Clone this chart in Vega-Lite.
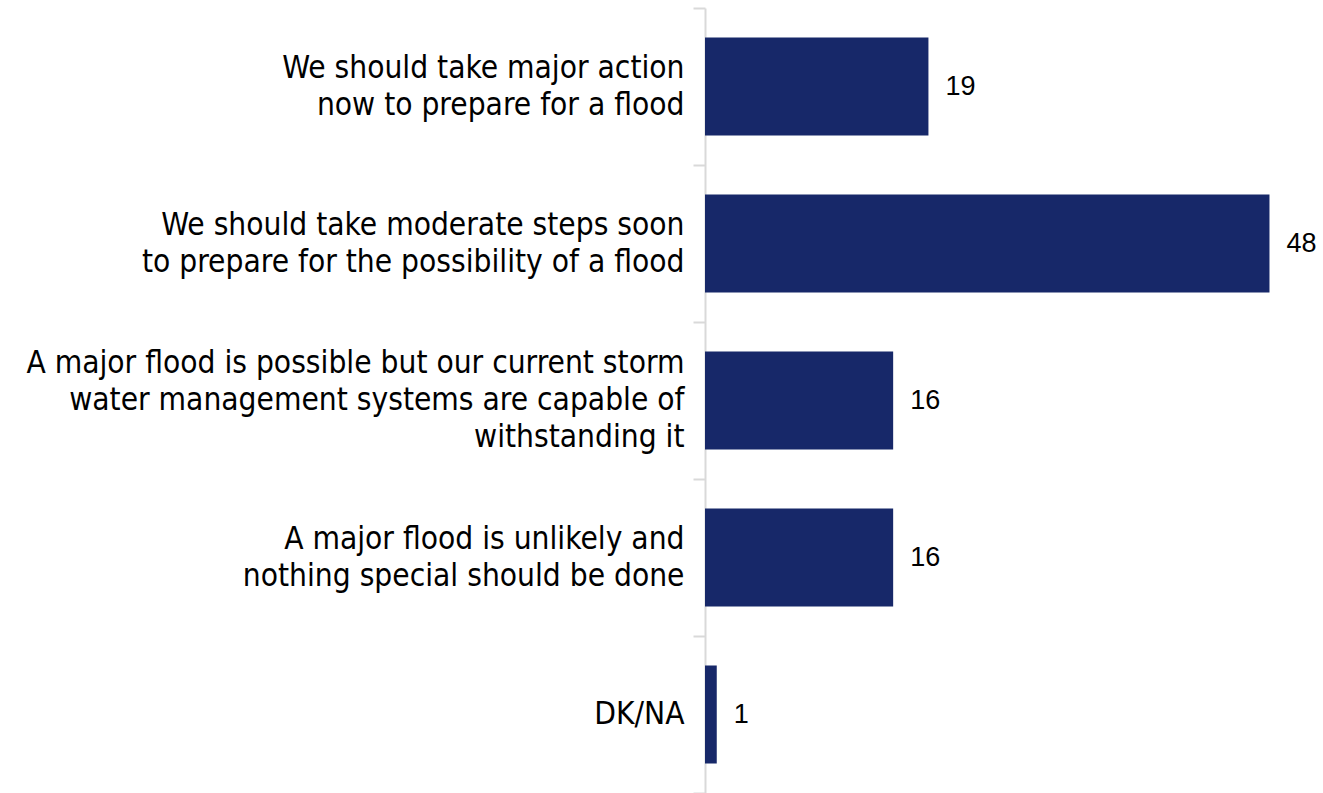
{
  "$schema": "https://vega.github.io/schema/vega-lite/v6.json",
  "autosize": "none",
  "padding": {"left": 705, "top": 8, "right": 30, "bottom": 0},
  "width": 588,
  "height": 785,
  "background": "white",
  "data": {
    "values": [
      {"label": "\u200b|We should take major action|\u200b|now to prepare for a flood", "value": 19},
      {"label": "\u200b|We should take moderate steps soon|\u200b|to prepare for the possibility of a flood", "value": 48},
      {"label": "A major flood is possible but our current storm|\u200b|water management systems are capable of|\u200b|withstanding it", "value": 16},
      {"label": "\u200b|A major flood is unlikely and|\u200b|nothing special should be done", "value": 16},
      {"label": "\u200b|\u200b|DK/NA", "value": 1}
    ]
  },
  "config": {"view": {"stroke": null}},
  "encoding": {
    "y": {
      "field": "label",
      "type": "nominal",
      "sort": null,
      "scale": {"paddingInner": 0, "paddingOuter": 0},
      "axis": {
        "title": null,
        "labelExpr": "split(datum.label, '|')",
        "labelFont": "DejaVu Sans Condensed",
        "labelFontSize": 31.4,
        "labelLineHeight": 18.5,
        "labelColor": "#000000",
        "labelPadding": 9,
        "labelOffset": -37,
        "tickSize": 12,
        "tickBand": "extent",
        "tickColor": "#d9d9d9",
        "tickWidth": 2,
        "domainColor": "#d9d9d9",
        "domainWidth": 2,
        "labelLimit": 0
      }
    },
    "x": {
      "field": "value",
      "type": "quantitative",
      "scale": {"domain": [0, 50], "nice": false},
      "axis": null
    }
  },
  "layer": [
    {"mark": {"type": "bar", "color": "#172869", "height": {"band": 0.625}}},
    {
      "mark": {"type": "text", "align": "left", "dx": 17, "font": "Liberation Sans", "fontSize": 27, "color": "#000000"},
      "encoding": {"text": {"field": "value", "type": "quantitative"}}
    }
  ]
}
